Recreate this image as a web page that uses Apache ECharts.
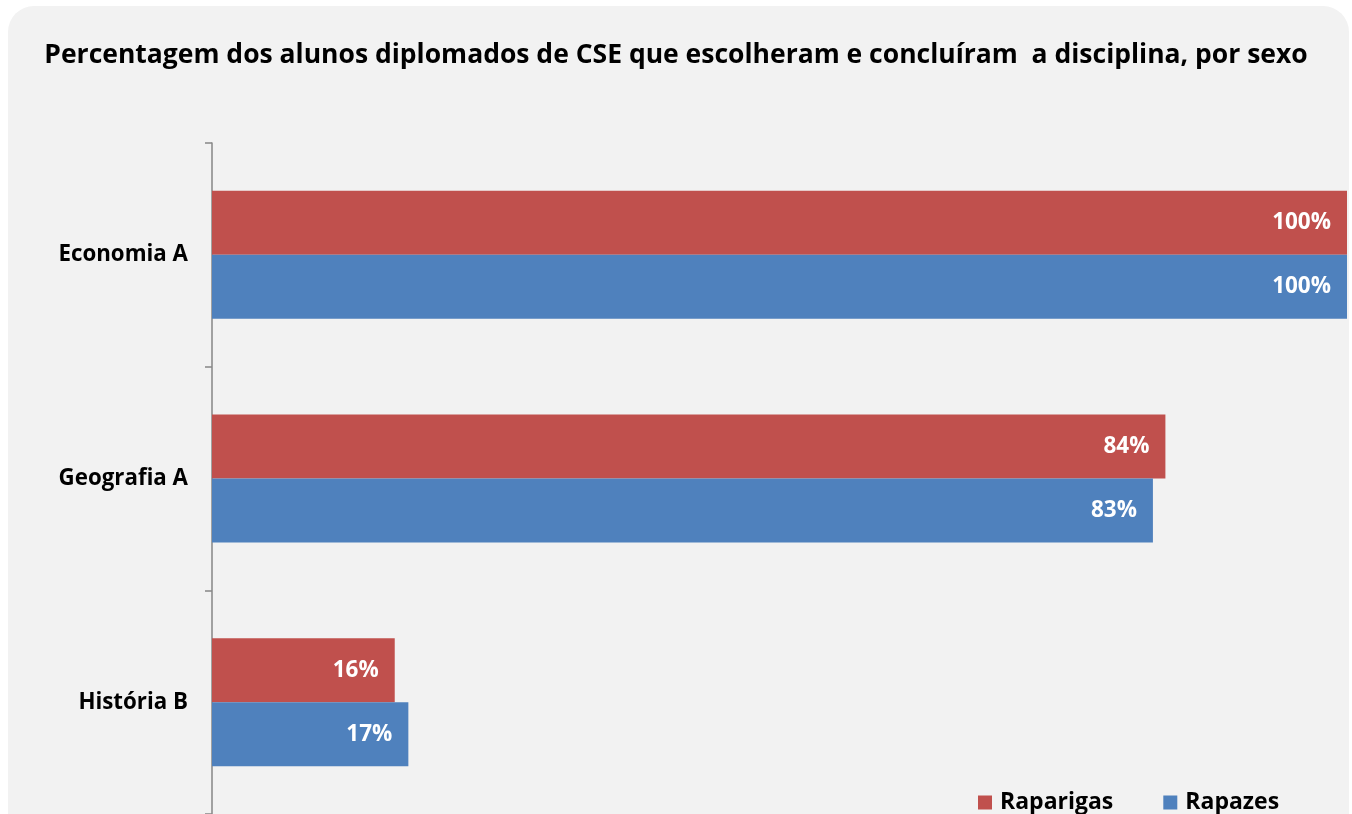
<!DOCTYPE html>
<html>
<head>
<meta charset="utf-8">
<script src="https://cdn.jsdelivr.net/npm/echarts@6/dist/echarts.min.js"></script>
<style>
  html, body { margin: 0; padding: 0; background: #ffffff; overflow: hidden; }
  .card {
    position: absolute; left: 8px; top: 6px; width: 1341px; height: 900px;
    background: #f2f2f2; border-radius: 26px;
  }
  #panel { position: absolute; left: 0; top: 0; width: 1352px; height: 814px; }
</style>
</head>
<body>
<div class="card"></div>
<div id="panel"></div>
<script>
const categories = ['Economia A', 'Geografia A', 'História B'];
const raparigas = [100, 84, 16.1];
const rapazes = [100, 82.9, 17.3];
const FONT = '"Open Sans", "DejaVu Sans", sans-serif';

const pct = (p) => Math.round(p.value) + '%';

const myChart = echarts.init(document.getElementById('panel'));
const option = {
  backgroundColor: 'transparent',
  animation: false,
  title: {
    text: 'Percentagem dos alunos diplomados de CSE que escolheram e concluíram  a disciplina, por sexo',
    left: 'center',
    top: 37,
    textStyle: { fontFamily: FONT, fontWeight: 'bold', fontSize: 26.5, color: '#000' },
  },
  legend: {
    data: ['Raparigas', 'Rapazes'],
    left: 973,
    top: 786,
    icon: 'rect',
    itemWidth: 14,
    itemHeight: 14,
    itemGap: 50,
    textStyle: { fontFamily: FONT, fontWeight: 'bold', fontSize: 23, color: '#000', padding: [0, 0, 0, 3] },
  },
  grid: { left: 212, right: 5, top: 143, height: 672 },
  xAxis: {
    type: 'value',
    min: 0,
    max: 100,
    show: false,
  },
  yAxis: {
    type: 'category',
    data: categories,
    inverse: true,
    axisLine: { show: true, lineStyle: { color: '#868686', width: 1.5 } },
    axisTick: { show: true, length: 7, lineStyle: { color: '#868686', width: 1.5 } },
    axisLabel: {
      margin: 24, fontFamily: FONT, fontWeight: 'bold', fontSize: 22.3, color: '#000',
      padding: [5, 0, 0, 0],
    },
  },
  series: [
    {
      name: 'Raparigas',
      type: 'bar',
      data: raparigas,
      barWidth: 64,
      barGap: '0%',
      itemStyle: { color: '#c0504d' },
      label: {
        show: true, position: 'insideRight', distance: 16, formatter: pct,
        fontFamily: FONT, fontWeight: 'bold', fontSize: 22.5, color: '#fff',
        padding: [5, 0, 0, 0],
      },
    },
    {
      name: 'Rapazes',
      type: 'bar',
      data: rapazes,
      barWidth: 64,
      barGap: '0%',
      itemStyle: { color: '#4f81bd' },
      label: {
        show: true, position: 'insideRight', distance: 16, formatter: pct,
        fontFamily: FONT, fontWeight: 'bold', fontSize: 22.5, color: '#fff',
        padding: [5, 0, 0, 0],
      },
    },
  ],
};
myChart.setOption(option);
</script>
</body>
</html>
